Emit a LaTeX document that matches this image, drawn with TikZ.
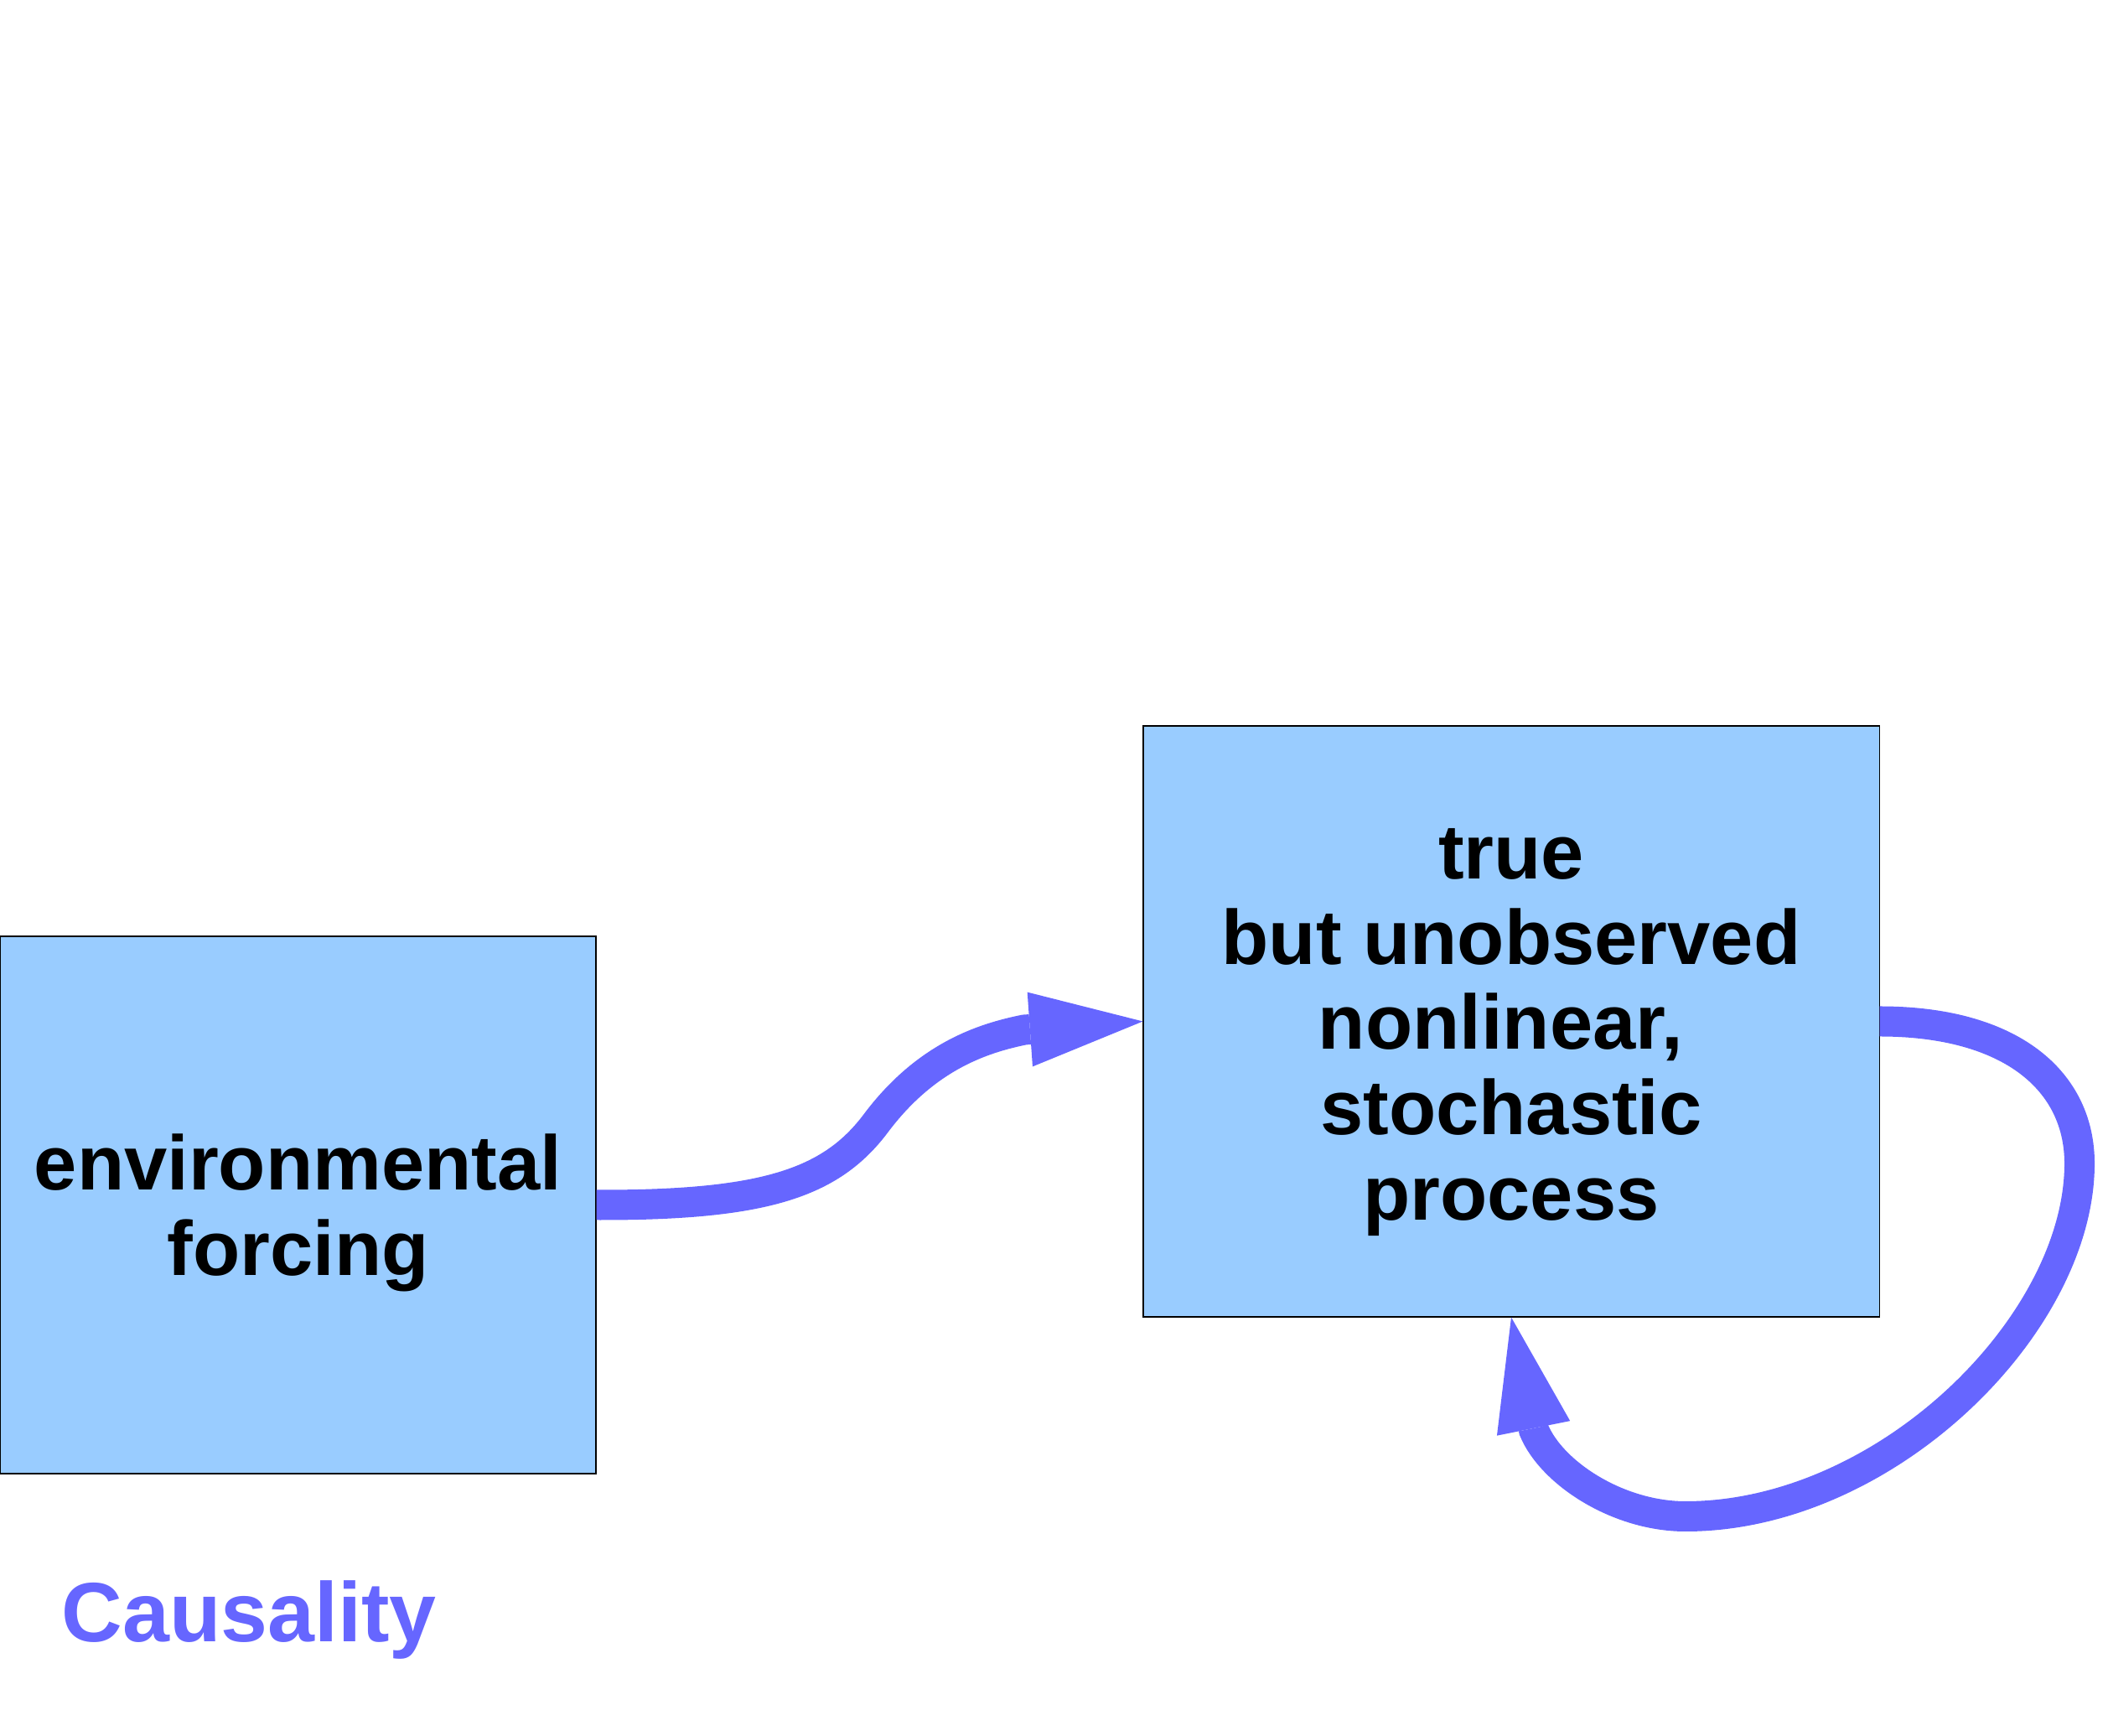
\documentclass[tikz,border=0pt]{standalone}
\usepackage{fontspec}
\setmainfont{Liberation Sans}
\usetikzlibrary{arrows.meta}
\definecolor{boxblue}{HTML}{99CCFF}
\definecolor{arrowblue}{HTML}{6666FF}

\begin{document}
\begin{tikzpicture}

      \useasboundingbox (0,0) rectangle (25.15,20.70);

      \begin{scope}[every node/.style={rectangle,draw,line width=0.3pt,fill=boxblue,align=center,
          font=\fontsize{26.2}{29}\selectfont\bfseries}]
        \node[minimum width=7.11cm,minimum height=6.41cm] (env)  at (3.555,6.325)
          {\rule{0pt}{0.86cm}environmental\\forcing};
        \node[minimum width=8.78cm,minimum height=7.05cm] (proc) at (18.03,8.515)
          {\rule{0pt}{0.86cm}true\\but unobserved\\nonlinear,\kern0.278em\\stochastic\\process};
      \end{scope}

      \node[anchor=base west,inner sep=0pt,text=arrowblue,font=\fontsize{28.6}{32}\selectfont\bfseries]
        (caus) at (0.73,1.12) {Causality};

      \begin{scope}[draw=arrowblue,line width=0.36cm,
          -{Triangle[length=1.35cm,width=0.89cm,line width=0pt]}]
        \draw (env.east) .. controls (9.11,6.32) and (9.91,6.58) .. (10.45,7.30)
          .. controls (11.05,8.10) and (11.73,8.315) .. (12.22,8.415) -- (proc.west);
        \draw (proc.east) .. controls (24.00,8.515) and (24.81,7.80) .. (24.81,6.82)
          .. controls (24.81,4.90) and (22.50,2.61) .. (20.11,2.61)
          .. controls (19.30,2.61) and (18.51,3.13) .. (18.30,3.64) -- (proc.south);
      \end{scope}

    \end{tikzpicture}
\end{document}
